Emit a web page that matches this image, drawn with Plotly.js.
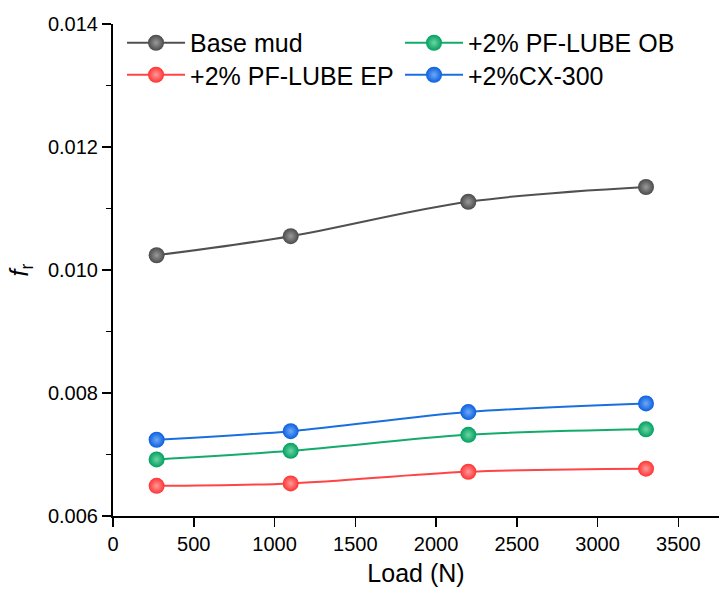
<!DOCTYPE html>
<html>
<head>
<meta charset="utf-8">
<script src="https://cdn.plot.ly/plotly-3.0.1.min.js"></script>
<style>html,body{margin:0;padding:0;background:#fff;}#chart{width:719px;height:590px;}</style>
</head>
<body>
<div id="chart"></div>
<script>
const loads = [270, 1100, 2200, 3300];
const seriesNames = ["Base mud", "+2% PF-LUBE OB", "+2% PF-LUBE EP", "+2%CX-300"];
const baseMud = [0.01024, 0.01055, 0.01111, 0.01135];
const lubeOB = [0.00692, 0.00706, 0.00732, 0.00741];
const lubeEP = [0.00649, 0.00653, 0.00672, 0.00677];
const cx300 = [0.00724, 0.00738, 0.00769, 0.00783];
const xTicks = [0, 500, 1000, 1500, 2000, 2500, 3000, 3500];
const yTicks = [0.006, 0.008, 0.010, 0.012, 0.014];

const seriesValues = [baseMud, lubeOB, lubeEP, cx300];
const lineColors = ["#505050", "#12ab6a", "#ff4444", "#1a6fe0"];
const markerColors = ["#4a4a4a", "#00a060", "#ff3333", "#0a5fe0"];
const glowColors = ["#9a9a9a", "#6fd4a4", "#ff9a9a", "#6fa8f5"];
const legendIds = ["legend", "legend2", "legend3", "legend4"];

const traces = seriesValues.map((vals, i) => ({
  type: "scatter",
  mode: "lines+markers",
  name: seriesNames[i],
  legend: legendIds[i],
  x: loads,
  y: vals,
  line: {color: lineColors[i], width: 2, shape: "spline"},
  marker: {size: 16, color: markerColors[i], line: {width: 0},
           gradient: {type: "radial", color: glowColors[i]}}
}));

const font = "Arial, 'Liberation Sans', sans-serif";
function legendAt(x, y) {
  return {
    orientation: "v", x: x, y: y, xanchor: "left", yanchor: "middle",
    font: {family: font, size: 25, color: "#000"},
    itemwidth: 58, bgcolor: "rgba(0,0,0,0)", borderwidth: 0
  };
}
const layout = {
  width: 719, height: 590,
  margin: {l: 113, r: 0, t: 24, b: 74, pad: 0},
  paper_bgcolor: "#fff", plot_bgcolor: "#fff",
  font: {family: font, color: "#000", size: 20},
  showlegend: true,
  legend: legendAt(0.0149, 0.9614),
  legend2: legendAt(0.4736, 0.9614),
  legend3: legendAt(0.0149, 0.8963),
  legend4: legendAt(0.4736, 0.8963),
  xaxis: {
    range: [0, 3752], tickvals: xTicks, ticktext: xTicks.map(String),
    showgrid: false, zeroline: false, showline: true, linecolor: "#000", linewidth: 2,
    ticks: "outside", ticklen: 9, tickwidth: 1.5, tickcolor: "#000",
    tickfont: {size: 20, family: font},
    title: {text: "Load (N)", font: {size: 25, family: font}, standoff: 10},
    automargin: false
  },
  yaxis: {
    range: [0.006, 0.014], tickvals: yTicks, ticktext: yTicks.map(v => v.toFixed(3)),
    showgrid: false, zeroline: false, showline: true, linecolor: "#000", linewidth: 2,
    ticks: "outside", ticklen: 9, tickwidth: 1.5, tickcolor: "#000",
    minor: {dtick: 0.001, ticks: "outside", ticklen: 5, tickwidth: 1.5, tickcolor: "#000", showgrid: false},
    tickfont: {size: 20, family: font},
    title: {text: "<i>f</i><sub>r</sub>", font: {size: 25, family: font}, standoff: 12},
    automargin: false
  }
};

Plotly.newPlot("chart", traces, layout, {displayModeBar: false, staticPlot: true});
</script>
</body>
</html>
